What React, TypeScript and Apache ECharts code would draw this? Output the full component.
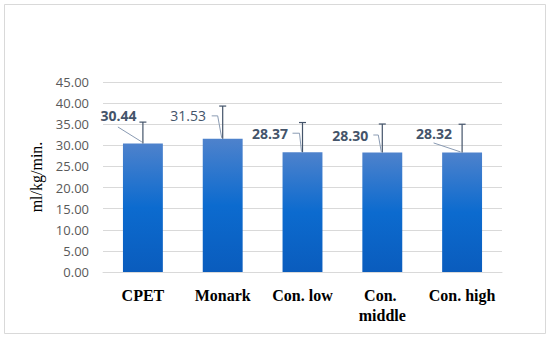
import React, { useEffect, useRef } from "react";
import * as echarts from "echarts";

const categories = ["CPET", "Monark", "Con. low", "Con. middle", "Con. high"];
const means = [30.44, 31.53, 28.37, 28.3, 28.32];
const upperErrors = [35.5, 39.3, 35.4, 35.05, 35.0];
const yTicks = { min: 0, max: 45, interval: 5 };

// styling (not data)
const boldLabel = [true, false, true, true, true];
// label centre offsets from the bar top centre (px)
const labelOffsets = [
  [-24.5, -27.5],
  [-34.5, -23],
  [-32.5, -19],
  [-32, -17.5],
  [-28, -19],
];
// leader lines, relative to the bar top centre (px)
const leaderLines = [
  [[-25, -16.5], [-1, -1.5]],
  [[-11, -23], [-5, -23], [-1, -1]],
  [[-10, -19], [-3, -19], [-1, -0.5]],
  [[-9, -17.5], [-4, -17.5], [-1, -0.5]],
  [[-28.5, -9.5], [-1.5, -0.5]],
];

export default function App() {
  const ref = useRef<HTMLDivElement>(null);
  useEffect(() => {
    if (!ref.current) return;
    const chart = echarts.init(ref.current, null, { renderer: "svg" });
    const labelColor = "#44546a";
    chart.setOption({
      animation: false,
      backgroundColor: "#ffffff",
      graphic: [
        {
          type: "rect",
          shape: { x: 4.5, y: 4.5, width: 541, height: 329 },
          style: { fill: "none", stroke: "#d9d9d9", lineWidth: 1 },
          silent: true,
        },
      ],
      grid: { left: 103, right: 48, top: 82, bottom: 67 },
      xAxis: {
        type: "category",
        data: categories,
        axisLine: { show: true, lineStyle: { color: "#d9d9d9" } },
        axisTick: { show: false },
        axisLabel: {
          fontFamily: "Liberation Serif",
          fontWeight: "bold",
          fontSize: 16,
          color: "#000000",
          margin: 13,
          lineHeight: 20,
          width: 76,
          overflow: "break",
          interval: 0,
        },
      },
      yAxis: {
        type: "value",
        min: yTicks.min,
        max: yTicks.max,
        interval: yTicks.interval,
        name: "ml/kg/min.",
        nameLocation: "middle",
        nameGap: 58,
        nameTextStyle: {
          fontFamily: "Liberation Serif",
          fontSize: 16,
          color: "#000000",
        },
        axisLine: { show: false },
        axisTick: { show: false },
        splitLine: { lineStyle: { color: "#d9d9d9", width: 1 } },
        axisLabel: {
          fontFamily: "Open Sans",
          fontSize: 13,
          color: "#595959",
          margin: 14,
          formatter: (v: number) => v.toFixed(2),
        },
      },
      series: [
        {
          type: "bar",
          barWidth: "50%",
          data: means.map((v, i) => ({
            value: v,
            label: { fontWeight: boldLabel[i] ? "bold" : "normal" },
          })),
          itemStyle: {
            color: new echarts.graphic.LinearGradient(0, 0, 0, 1, [
              { offset: 0, color: "#4e82cc" },
              { offset: 0.5, color: "#0c6bcf" },
              { offset: 1, color: "#0a5cbd" },
            ]),
          },
          label: {
            show: true,
            position: "top",
            fontFamily: "Open Sans",
            fontSize: 14,
            color: labelColor,
            formatter: (p: any) => Number(p.value).toFixed(2),
          },
          labelLayout: (p: any) => {
            const r = p.rect;
            const off = labelOffsets[p.dataIndex];
            return {
              x: r.x + r.width / 2 + off[0],
              y: r.y + off[1],
              align: "center",
              verticalAlign: "middle",
            };
          },
          z: 2,
        },
        {
          type: "custom",
          data: means.map((v, i) => [i, v, upperErrors[i]]),
          clip: false,
          z: 3,
          renderItem: (params: any, api: any) => {
            const i = api.value(0);
            const base = api.coord([i, api.value(1)]);
            const top = api.coord([i, api.value(2)]);
            const cap = 3.5;
            const lineStyle = { stroke: "#44546a", lineWidth: 1.2 };
            const leader = leaderLines[i].map((pt: number[]) => [
              base[0] + pt[0],
              base[1] + pt[1],
            ]);
            return {
              type: "group",
              children: [
                {
                  type: "line",
                  shape: { x1: base[0], y1: base[1], x2: top[0], y2: top[1] },
                  style: lineStyle,
                },
                {
                  type: "line",
                  shape: { x1: top[0] - cap, y1: top[1], x2: top[0] + cap, y2: top[1] },
                  style: lineStyle,
                },
                {
                  type: "polyline",
                  shape: { points: leader },
                  style: { stroke: "#8a9bb3", lineWidth: 1, fill: "none" },
                },
              ],
            };
          },
        },
      ],
    });
    return () => chart.dispose();
  }, []);
  return (
    <div
      ref={ref}
      style={{ position: "fixed", left: 0, top: 0, width: 550, height: 339 }}
    />
  );
}
